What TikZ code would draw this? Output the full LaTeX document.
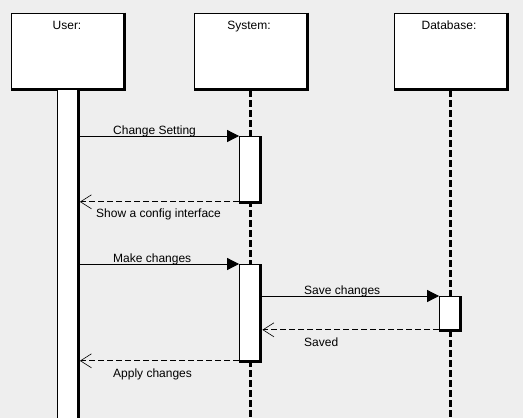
\documentclass[tikz,border=0pt]{standalone}
\usepackage{fontspec}
\setmainfont{Liberation Sans}
\usetikzlibrary{arrows.meta}
\definecolor{bg}{HTML}{EEEEEE}
\begin{document}
\begin{tikzpicture}[x=1pt,y=-1pt,
 objbox/.style={draw, fill=white, line width=0.8pt, minimum width=112pt, minimum height=75pt, inner sep=0},
 actbox/.style={draw, fill=white, line width=0.8pt, minimum width=21pt, inner sep=0, anchor=north},
 shadowline/.style={line width=3pt},
 life/.style={line width=3pt, dash pattern=on 7pt off 3pt},
 msg/.style={line width=0.8pt, -{Triangle[length=12pt,width=12pt]}},
 ret/.style={line width=0.8pt, dash pattern=on 6pt off 3pt, -{Straight Barb[length=11pt,width=14pt,line width=0.6pt]}},
 txt/.style={inner sep=0, font=\fontsize{12pt}{14pt}\selectfont},
 lbl/.style={txt, anchor=base west}]

\fill[bg] (0,0) rectangle (523,418);
\useasboundingbox (0,0) rectangle (523,418);
\coordinate (bot) at (0,418);

% object boxes
\node[objbox] (user) at (67,50.5) {};
\node[objbox] (system) at (250,50.5) {};
\node[objbox] (db) at (450,50.5) {};
\foreach \n in {user,system,db}{
  \draw[shadowline] ([xshift=1pt]\n.north east) -- ([xshift=1pt,yshift=-1pt]\n.south east) -- ([yshift=-1pt]\n.south west);
}
\node[txt, anchor=base] (tuser) at (67,29) {User:};
\node[txt, anchor=base] (tsystem) at (249,29) {System:};
\node[txt, anchor=base] (tdb) at (449,29) {Database:};

% lifelines
\draw[life] ([yshift=-2pt]system.south) -- (system.south |- bot);
\draw[life] ([yshift=-2pt]db.south) -- (db.south |- bot);

% user activation bar
\node[actbox, minimum height=340pt] (ubar) at (67.5,89) {};
\draw[shadowline] (ubar.north east) -- (ubar.south east);

% activations
\node[actbox, minimum height=65pt] (a1) at (250,136) {};
\node[actbox, minimum height=96pt] (a2) at (250,264) {};
\node[actbox, minimum height=33pt] (a3) at (450,296) {};
\foreach \n in {a1,a2,a3}{
  \draw[shadowline] (\n.north east) -- ([yshift=-1pt]\n.south east) -- ([yshift=-1pt]\n.south west);
}

% messages
\draw[msg] (ubar.east |- a1.north) -- (a1.north west);
\draw[ret] (a1.south west) -- ([xshift=1.5pt]ubar.east |- a1.south);
\draw[msg] (ubar.east |- a2.north) -- (a2.north west);
\draw[msg] ([xshift=1.5pt]a2.east |- a3.north) -- (a3.north west);
\draw[ret] (a3.south west) -- ([xshift=1.5pt]a2.east |- a3.south);
\draw[ret] (a2.south west) -- ([xshift=1.5pt]ubar.east |- a2.south);

% labels
\node[lbl] (l1) at (113,134) {Change Setting};
\node[lbl] (l2) at (96,217) {Show a config interface};
\node[lbl] (l3) at (113,262) {Make changes};
\node[lbl] (l4) at (304,294) {Save changes};
\node[lbl] (l5) at (304,346) {Saved};
\node[lbl] (l6) at (113,377) {Apply changes};
\end{tikzpicture}
\end{document}
